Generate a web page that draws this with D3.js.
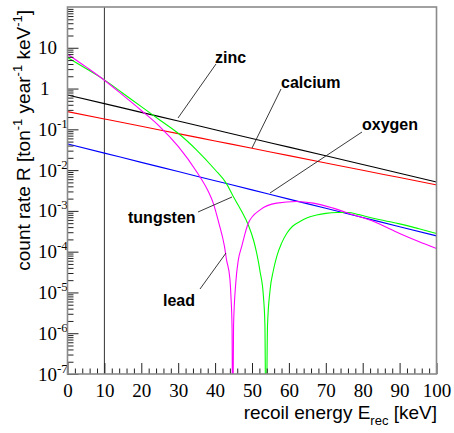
<!DOCTYPE html>
<html><head><meta charset="utf-8">
<script src="https://cdn.jsdelivr.net/npm/d3@7"></script>
<style>body{margin:0;background:#fff}svg{display:block}</style>
</head><body>
<svg id="c" width="454" height="433"></svg>
<script>
// ---- data ----
const lineE = [0, 10, 20, 30, 40, 50, 60, 70, 80, 90, 100];
const zincR = [0.697, 0.427, 0.261, 0.160, 0.0977, 0.0597, 0.0366, 0.0224, 0.0137, 0.00838, 0.00513];
const calciumR = [0.272, 0.180, 0.119, 0.0785, 0.0519, 0.0343, 0.0227, 0.0150, 0.0099, 0.00656, 0.00434];
const oxygenR = [0.0439, 0.0261, 0.0155, 0.00923, 0.00549, 0.00327, 0.00194, 0.00116, 0.000689, 0.000409, 0.000244];

const tungstenE = [0, 5, 10, 15, 20, 25, 30, 35, 40, 43, 45, 47, 49, 50.5, 51.3, 52.2, 53.1, 53.5, 53.8,
  54.2, 54.9, 55.8, 56.7, 58, 59.4, 61, 63, 65, 67.5, 70, 73, 76, 79, 82, 86, 90, 95, 100];
const tungstenR = [5.8, 3.1, 1.63, 0.77, 0.36, 0.17, 0.080, 0.031, 0.0102, 0.0048, 0.0022, 0.00105, 4.5e-4, 1.8e-4, 8.9e-5, 3.2e-5, 7.9e-6, 1.6e-6, 1e-9,
  1.5e-6, 1.15e-5, 3.5e-5, 7.6e-5, 1.6e-4, 2.8e-4, 4.2e-4, 5.5e-4, 6.8e-4, 7.9e-4, 8.7e-4, 9.1e-4, 9.1e-4, 8.1e-4, 6.9e-4, 5.75e-4, 4.8e-4, 3.7e-4, 2.8e-4];

const leadE = [0, 5, 10, 15, 20, 25, 30, 35, 38, 39.5, 41, 42.5, 43.1, 44, 44.3, 44.6, 44.75,
  45.0, 45.6, 46.3, 47.2, 49, 52.2, 56.7, 62, 66.6, 72, 77.5, 83, 90, 95, 100];
const leadR = [7.0, 3.4, 1.6, 0.69, 0.29, 0.117, 0.038, 0.0091, 0.0032, 0.00155, 5.1e-4, 1.4e-4, 6.3e-5, 2.2e-5, 7.9e-6, 1.3e-6, 1e-9,
  1.5e-6, 1.7e-5, 6.3e-5, 1.33e-4, 5.0e-4, 1.06e-3, 1.55e-3, 1.7e-3, 1.55e-3, 1.17e-3, 8.0e-4, 5.5e-4, 2.8e-4, 1.8e-4, 1.2e-4];

const xTicks = [0, 10, 20, 30, 40, 50, 60, 70, 80, 90, 100];
const yExps = [-7, -6, -5, -4, -3, -2, -1, 0, 1];
const seriesNames = ["zinc", "calcium", "oxygen", "tungsten", "lead"];
const cutE = 10;

// ---- layout ----
const L = 67.5, R = 436.5, T = 7, B = 374;
const svg = d3.select("#c");
const x = d3.scaleLinear().domain([0, 100]).range([L, R]);
const y = d3.scaleLog().domain([1e-7, 100]).range([B, T]);

svg.append("defs").append("clipPath").attr("id", "clip")
  .append("rect").attr("x", L).attr("y", T).attr("width", R - L).attr("height", B - T);

// vertical marker at 10 keV
svg.append("line").attr("x1", x(cutE)).attr("x2", x(cutE)).attr("y1", B).attr("y2", T)
  .attr("stroke", "#333").attr("stroke-width", 1);

// curves
const series = [
  {E: lineE, R: zincR, c: "#000000"},
  {E: lineE, R: calciumR, c: "#ff0000"},
  {E: lineE, R: oxygenR, c: "#0000ff"},
  {E: tungstenE, R: tungstenR, c: "#00ff00"},
  {E: leadE, R: leadR, c: "#ff00ff"}
];
const line = d3.line().x(d => x(d[0])).y(d => y(d[1])).curve(d3.curveMonotoneX);
const g = svg.append("g").attr("clip-path", "url(#clip)");
series.forEach(s => {
  g.append("path").datum(s.E.map((e, i) => [e, s.R[i]]))
    .attr("d", line).attr("fill", "none").attr("stroke", s.c).attr("stroke-width", 1.1);
});

// axes: ticks inside the frame
const xMinor = d3.range(0, 101, 2).filter(v => v % 10 !== 0);
svg.append("g").attr("transform", `translate(0,${B})`)
  .call(d3.axisBottom(x).tickValues(xMinor).tickSize(-5.5).tickFormat(""))
  .call(a => a.select(".domain").remove())
  .selectAll("line").attr("stroke", "#222");
const xa = svg.append("g").attr("transform", `translate(0,${B})`)
  .call(d3.axisBottom(x).tickValues(xTicks).tickSize(-11).tickPadding(0).tickFormat(d3.format("d")));
xa.select(".domain").remove();
xa.selectAll("line").attr("stroke", "#222");
xa.selectAll("text").attr("y", 23).attr("dy", null)
  .attr("font-family", "Liberation Serif, Times New Roman, serif").attr("font-size", 19).attr("fill", "#000");

const yMinorVals = [];
for (let e = -7; e < 2; e++) for (let m = 2; m <= 9; m++) yMinorVals.push(m * Math.pow(10, e));
svg.append("g").attr("transform", `translate(${L},0)`)
  .call(d3.axisLeft(y).tickValues(yMinorVals).tickSize(-6).tickFormat(""))
  .call(a => a.select(".domain").remove())
  .selectAll("line").attr("stroke", "#222");
const ya = svg.append("g").attr("transform", `translate(${L},0)`)
  .call(d3.axisLeft(y).tickValues(yExps.map(e => Math.pow(10, e))).tickSize(-11).tickFormat(""));
ya.select(".domain").remove();
ya.selectAll("line").attr("stroke", "#222");

// y tick labels
const yl = svg.append("g").attr("font-family", "Liberation Serif, Times New Roman, serif").attr("fill", "#000");
yExps.forEach(e => {
  const t = yl.append("text").attr("x", 38).attr("y", y(Math.pow(10, e)) + 6.5).attr("font-size", 19);
  if (e === 0) t.attr("x", 40).text("1");
  else if (e === 1) t.text("10");
  else {
    t.append("tspan").text("10");
    t.append("tspan").attr("font-size", 13).attr("dy", -8).text(String(e).replace("-", "-"));
  }
});

// frame
svg.append("rect").attr("x", L).attr("y", T).attr("width", R - L).attr("height", B - T)
  .attr("fill", "none").attr("stroke", "#8a8a8a").attr("stroke-width", 1.6);

// axis titles
const sans = "Liberation Sans, Arial, Helvetica, sans-serif";
const xt = svg.append("text").attr("x", 437).attr("y", 419).attr("text-anchor", "end")
  .attr("font-family", sans).attr("font-size", 19).attr("fill", "#000");
xt.append("tspan").text("recoil energy E");
xt.append("tspan").attr("font-size", 13).attr("dy", 6).text("rec");
xt.append("tspan").attr("dy", -6).text(" [keV]");

const yt = svg.append("text").attr("transform", "translate(30,10) rotate(-90)").attr("text-anchor", "end")
  .attr("font-family", sans).attr("font-size", 19).attr("fill", "#000");
yt.append("tspan").text("count rate R [ton");
yt.append("tspan").attr("font-size", 13).attr("dy", -8).text("-1");
yt.append("tspan").attr("dy", 8).text(" year");
yt.append("tspan").attr("font-size", 13).attr("dy", -8).text("-1");
yt.append("tspan").attr("dy", 8).text(" keV");
yt.append("tspan").attr("font-size", 13).attr("dy", -8).text("-1");
yt.append("tspan").attr("dy", 8).text("]");

// series labels with pointer lines
const labelPos = [
  {t: seriesNames[0], x: 215, y: 63, l: [216, 64, 178, 118]},
  {t: seriesNames[1], x: 281, y: 88, l: [281, 89, 252, 148]},
  {t: seriesNames[2], x: 362, y: 130, l: [362, 132, 270, 193]},
  {t: seriesNames[3], x: 128, y: 223, l: [198, 212, 232, 197]},
  {t: seriesNames[4], x: 163, y: 306, l: [200, 289, 226, 253]}
];
labelPos.forEach(p => {
  svg.append("line").attr("x1", p.l[0]).attr("y1", p.l[1]).attr("x2", p.l[2]).attr("y2", p.l[3])
    .attr("stroke", "#222").attr("stroke-width", 0.9);
  svg.append("text").attr("x", p.x).attr("y", p.y).attr("font-family", sans)
    .attr("font-weight", "bold").attr("font-size", 16).attr("fill", "#000").text(p.t);
});
</script>
</body></html>
